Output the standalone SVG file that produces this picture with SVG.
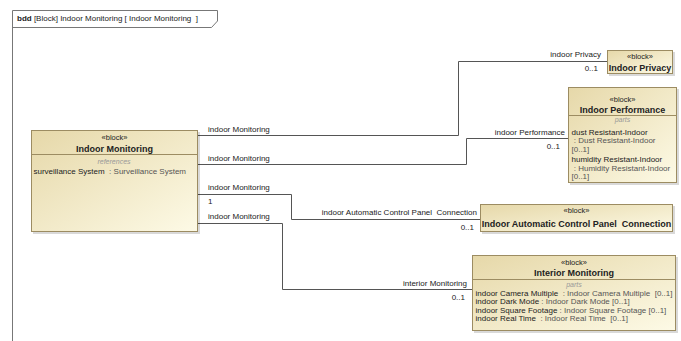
<svg xmlns="http://www.w3.org/2000/svg" width="681" height="341" viewBox="0 0 681 341">
<defs>
<linearGradient id="bg" x1="0" y1="0" x2="1" y2="1">
<stop offset="0" stop-color="#E6D8A9"/>
<stop offset="1" stop-color="#FDFAE6"/>
</linearGradient>
<style>
text{font-family:"Liberation Sans",Arial,sans-serif;font-size:8px;fill:#222;white-space:pre}
.b{font-weight:bold;font-size:9px}
.c{text-anchor:middle}
.e{text-anchor:end}
.st{font-size:7.5px}
.it{font-style:italic;fill:#999;font-size:7px}
.g{fill:#555}
.box{fill:url(#bg);stroke:#9C8C62;stroke-width:1}
.sh{fill:#000;opacity:0.15}
.sep{stroke:#9C8C62;stroke-width:1}
.ln{fill:none;stroke:#555;stroke-width:1}
.dm{fill:#444;stroke:#444;stroke-width:0.5}
</style>
</defs>
<rect width="681" height="341" fill="#fff"/>
<g id="frame">
<path d="M12.5,341 V10.5 H217.5 V21 L211.5,27.5 H12.5" fill="none" stroke="#777" stroke-width="1"/>
<text x="17" y="20.5" font-size="8.5px" xml:space="preserve"><tspan font-weight="bold">bdd</tspan> [Block] Indoor Monitoring [ Indoor Monitoring  ]</text>
</g>
<g id="connectors">
<path class="ln" d="M198,135.5 H458.5 V61.5 H607"/>
<path class="ln" d="M198,164.5 H466.5 V138.5 H568"/>
<path class="ln" d="M198,194.5 H291.5 V219.5 H480"/>
<path class="ln" d="M198,223.5 H282.5 V289.5 H472"/>
<path class="dm" d="M198,135.5 L193,133 L188,135.5 L193,138 Z"/>
<path class="dm" d="M198,164.5 L193,162 L188,164.5 L193,167 Z"/>
<path class="dm" d="M198,194.5 L193,192 L188,194.5 L193,197 Z"/>
<path class="dm" d="M198,223.5 L193,221 L188,223.5 L193,226 Z"/>
<text x="208" y="132">indoor Monitoring</text>
<text x="208" y="161">indoor Monitoring</text>
<text x="208" y="190">indoor Monitoring</text>
<text x="208" y="203.5">1</text>
<text x="208" y="219">indoor Monitoring</text>
<text class="e" x="601" y="57">indoor Privacy</text>
<text class="e" x="598" y="71">0..1</text>
<text class="e" x="565" y="134.5">indoor Performance</text>
<text class="e" x="560" y="149">0..1</text>
<text class="e" x="477" y="215" xml:space="preserve">indoor Automatic Control Panel  Connection</text>
<text class="e" x="474" y="230">0..1</text>
<text class="e" x="467" y="286">interior Monitoring</text>
<text class="e" x="465" y="300">0..1</text>
</g>
<g id="indoor-monitoring">
<rect class="sh" x="33" y="132" width="167" height="102"/>
<rect class="box" x="31.5" y="130.5" width="166" height="101"/>
<line class="sep" x1="31.5" y1="154.5" x2="197.5" y2="154.5"/>
<text class="c st" x="114.5" y="140">«block»</text>
<text class="c b" x="114.5" y="151.5">Indoor Monitoring</text>
<text class="c it" x="114" y="164">references</text>
<text x="33.5" y="174" xml:space="preserve">surveillance System  <tspan class="g">: Surveillance System</tspan></text>
</g>
<g id="indoor-privacy">
<rect class="sh" x="609" y="52" width="66" height="24"/>
<rect class="box" x="607.5" y="50.5" width="65" height="23"/>
<text class="c st" x="640" y="59">«block»</text>
<text class="c b" x="640" y="70.5">Indoor Privacy</text>
</g>
<g id="indoor-performance">
<rect class="sh" x="570" y="89" width="109" height="96"/>
<rect class="box" x="568.5" y="87.5" width="108" height="95"/>
<line class="sep" x1="568.5" y1="115.5" x2="676.5" y2="115.5"/>
<text class="c st" x="622.5" y="102">«block»</text>
<text class="c b" x="622.5" y="113">Indoor Performance</text>
<text class="c it" x="622.5" y="122">parts</text>
<text x="571.5" y="134.5">dust Resistant-Indoor</text>
<text x="571.5" y="143" class="g" xml:space="preserve"> : Dust Resistant-Indoor</text>
<text x="571.5" y="151.5" class="g">[0..1]</text>
<text x="571.5" y="162">humidity Resistant-Indoor</text>
<text x="571.5" y="170.5" class="g" xml:space="preserve"> : Humidity Resistant-Indoor</text>
<text x="571.5" y="179" class="g">[0..1]</text>
</g>
<g id="indoor-automatic-control-panel-connection">
<rect class="sh" x="482" y="206" width="193" height="28"/>
<rect class="box" x="480.5" y="204.5" width="192" height="27"/>
<text class="c st" x="576.5" y="212.5">«block»</text>
<text class="c b" x="576.5" y="227" xml:space="preserve">Indoor Automatic Control Panel  Connection</text>
</g>
<g id="interior-monitoring">
<rect class="sh" x="474" y="257" width="204" height="76"/>
<rect class="box" x="472.5" y="255.5" width="203" height="75"/>
<line class="sep" x1="472.5" y1="279.5" x2="675.5" y2="279.5"/>
<text class="c st" x="574" y="265">«block»</text>
<text class="c b" x="574" y="275.5">Interior Monitoring</text>
<text class="c it" x="574" y="287">parts</text>
<text x="475.5" y="295.5" xml:space="preserve">indoor Camera Multiple  <tspan class="g">: Indoor Camera Multiple  [0..1]</tspan></text>
<text x="475.5" y="304" xml:space="preserve">indoor Dark Mode <tspan class="g">: Indoor Dark Mode [0..1]</tspan></text>
<text x="475.5" y="312.5" xml:space="preserve">indoor Square Footage <tspan class="g">: Indoor Square Footage [0..1]</tspan></text>
<text x="475.5" y="321" xml:space="preserve">indoor Real Time  <tspan class="g">: Indoor Real Time  [0..1]</tspan></text>
</g>
</svg>
